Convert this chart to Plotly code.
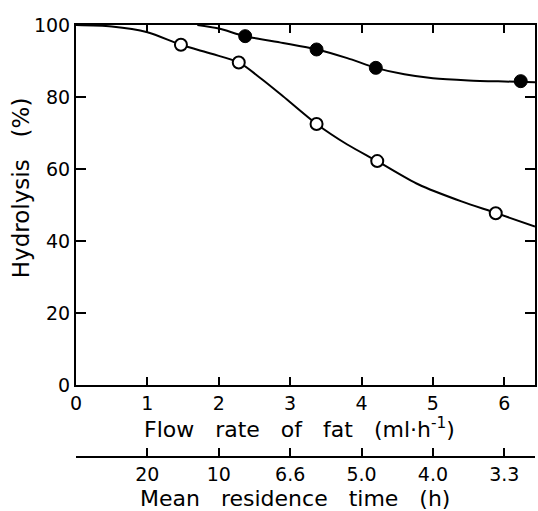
import plotly.graph_objects as go

# Measured points
flow_open = [1.47, 2.28, 3.37, 4.22, 5.88]
hyd_open = [94.5, 89.6, 72.5, 62.2, 47.7]
flow_filled = [2.37, 3.37, 4.20, 6.23]
hyd_filled = [96.9, 93.2, 88.1, 84.4]

# Hand-drawn curves
curve_open_x = [0, 0.5, 1.0, 1.47, 1.9, 2.28, 2.6, 2.9, 3.37, 3.8, 4.22, 4.8, 5.4, 5.88, 6.43]
curve_open_y = [100, 99.6, 98.0, 94.5, 92.0, 89.6, 85.0, 80.2, 72.5, 66.8, 62.2, 55.7, 51.0, 47.8, 44.0]
curve_filled_x = [1.7, 2.0, 2.37, 2.9, 3.37, 3.8, 4.2, 4.6, 5.0, 5.5, 6.0, 6.43]
curve_filled_y = [100, 99.0, 96.9, 95.0, 93.2, 90.8, 88.1, 86.3, 85.2, 84.6, 84.3, 84.1]

flow_ticks = [0, 1, 2, 3, 4, 5, 6]
flow_labels = ["0", "1", "2", "3", "4", "5", "6"]
residence_pos = [1, 2, 3, 4, 5, 6]
residence_labels = ["20", "10", "6.6", "5.0", "4.0", "3.3"]
y_ticks = [0, 20, 40, 60, 80, 100]
y_labels = ["0", "20", "40", "60", "80", "100"]

FONT = "DejaVu Sans"
W, H = 538, 511
L, R, T, B = 76, 1, 25, 54
PH = H - T - B  # paper height
PW = W - L - R
plot_bottom_px = 385
ydom0 = (H - B - plot_bottom_px) / PH


def px_to_paper_y(py):
    return (H - B - py) / PH


def px_to_paper_x(px):
    return (px - L) / PW


fig = go.Figure()
fig.add_trace(go.Scatter(x=curve_open_x, y=curve_open_y, mode="lines",
                         line=dict(color="black", width=2, shape="spline", smoothing=0.8),
                         showlegend=False, hoverinfo="skip"))
fig.add_trace(go.Scatter(x=curve_filled_x, y=curve_filled_y, mode="lines",
                         line=dict(color="black", width=2, shape="spline", smoothing=0.8),
                         showlegend=False, hoverinfo="skip"))
fig.add_trace(go.Scatter(x=flow_open, y=hyd_open, mode="markers",
                         marker=dict(size=12, color="white", line=dict(color="black", width=2)),
                         showlegend=False))
fig.add_trace(go.Scatter(x=flow_filled, y=hyd_filled, mode="markers",
                         marker=dict(size=13, color="black", line=dict(color="black", width=1)),
                         showlegend=False))
# invisible trace on secondary axis
fig.add_trace(go.Scatter(x=residence_pos, y=[None] * len(residence_pos), xaxis="x2", yaxis="y",
                         mode="markers", showlegend=False, hoverinfo="skip"))

axis_common = dict(showgrid=False, zeroline=False, showline=True, linecolor="black",
                   linewidth=2, ticks="inside", tickcolor="black", tickwidth=2,
                   tickfont=dict(family=FONT, size=19, color="black"))

SP = "\u00a0\u00a0 "
fig.update_layout(
    width=W, height=H,
    margin=dict(l=L, r=R, t=T, b=B, pad=0),
    paper_bgcolor="white", plot_bgcolor="white",
    xaxis=dict(range=[0, 6.43], tickvals=flow_ticks, ticktext=flow_labels, anchor="y",
               mirror="ticks", ticklen=8, **axis_common),
    xaxis2=dict(range=[0, 6.43], tickvals=residence_pos, ticktext=residence_labels,
                overlaying="x", anchor="free", position=0, side="bottom",
                ticklen=8, **axis_common),
    yaxis=dict(range=[0, 100], domain=[ydom0, 1], tickvals=y_ticks, ticktext=y_labels,
               mirror="ticks", ticklen=10, **axis_common),
    annotations=[
        dict(text="Flow" + SP + "rate" + SP + "of" + SP + "fat" + SP + "(ml\u00b7h<sup>-1</sup>)",
             xref="paper", yref="paper",
             x=px_to_paper_x(300), y=px_to_paper_y(428), showarrow=False,
             xanchor="center", yanchor="middle", font=dict(family=FONT, size=22, color="black")),
        dict(text="Mean" + SP + "residence" + SP + "time" + SP + "(h)", xref="paper", yref="paper",
             x=px_to_paper_x(296), y=px_to_paper_y(498), showarrow=False,
             xanchor="center", yanchor="middle", font=dict(family=FONT, size=22, color="black")),
        dict(text="Hydrolysis" + SP + "(%)", xref="paper", yref="paper",
             x=px_to_paper_x(21), y=px_to_paper_y(188), showarrow=False, textangle=-90,
             xanchor="center", yanchor="middle", font=dict(family=FONT, size=23, color="black")),
    ],
)

fig.write_html("out.html")
